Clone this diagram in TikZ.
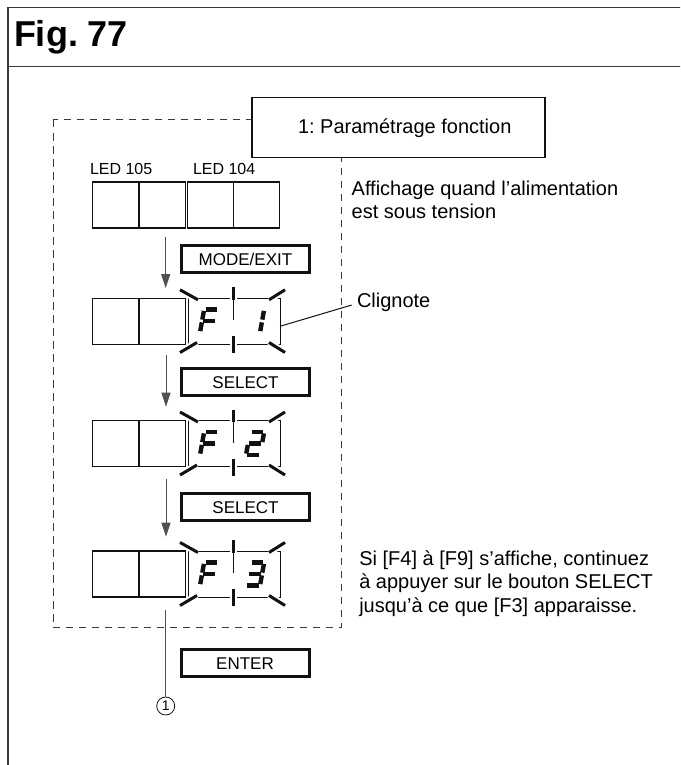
\documentclass[tikz,border=0pt]{standalone}
\usepackage{fontspec}
\setmainfont{Liberation Sans}
\usetikzlibrary{arrows.meta}
\frenchspacing
\definecolor{ink}{HTML}{111111}
\definecolor{framec}{HTML}{3A3A3A}
\definecolor{leadc}{HTML}{505050}
\tikzset{
  seg/.style={draw=ink, line width=4.4pt, shorten <=1.4pt, shorten >=1.4pt},
  ray/.style={draw=ink, line width=3pt, preaction={draw=white, line width=7pt}},
}
\newcommand\sgA{\draw[seg] (0,23)--(14,23);}
\newcommand\sgB{\draw[seg] (14,23)--(14,11.5);}
\newcommand\sgC{\draw[seg] (14,11.5)--(14,0);}
\newcommand\sgD{\draw[seg] (0,0)--(14,0);}
\newcommand\sgE{\draw[seg] (0,11.5)--(0,0);}
\newcommand\sgF{\draw[seg] (0,23)--(0,11.5);}
\newcommand\sgG{\draw[seg] (0,11.5)--(14,11.5);}
\newcommand\digitat[3]{\begin{scope}[shift={(#1,#2)},x=1pt,y=1pt,xslant=0.18]#3\end{scope}}
% rays of a blinking display: #1 = top, #2 = bottom
\newcommand\raysat[2]{%
  \draw[thin divider] (233.3,#1) -- (233.3,#1+22);
  \draw[ray] (180,#1-8.5) -- (198,#1+1.5);
  \draw[ray] (269,#1+1.5) -- (285,#1-8.5);
  \draw[ray] (180,#2+8.5) -- (197,#2-1.5);
  \draw[ray] (269,#2-1.5) -- (285,#2+8.5);
  \draw[ray] (233.3,#1-11) -- (233.3,#1+1.5);
  \draw[ray] (233.3,#2-8) -- (233.3,#2+9);
}
\begin{document}
\begin{tikzpicture}[x=1pt,y=-1pt,
  every node/.style={inner sep=0pt, outer sep=0pt},
  cell/.style={draw=ink, line width=1.3pt, minimum width=46.5pt, minimum height=46pt, anchor=north west},
  blinkbox/.style={draw=ink, line width=1pt, minimum width=92pt, minimum height=46pt, anchor=north west},
  thin divider/.style={draw=ink, line width=1pt},
  btn/.style={draw=ink, line width=3pt, minimum width=128pt, minimum height=27pt, anchor=north west,
    text height=12.2pt, text depth=0pt, font=\fontsize{17}{20}\selectfont},
  lbl/.style={anchor=base west, font=\fontsize{20}{23.5}\selectfont},
  ledlbl/.style={anchor=base west, font=\fontsize{16}{19}\selectfont},
  arr/.style={draw=leadc, line width=1pt, -{Triangle[length=14pt,width=9pt]}},
  frame/.style={draw=framec, line width=1.5pt},
  dashbox/.style={draw=framec, line width=1pt, dash pattern=on 7.5pt off 5.5pt},
]
\useasboundingbox (0,0) rectangle (680,765);
\clip (0,0) rectangle (680,765);

% outer frame and header
\draw[frame] (7.8,7.3) rectangle (700,800);
\draw[frame] (7.8,66.5) -- (700,66.5);
\node[anchor=base west, font=\fontsize{36}{40}\selectfont\bfseries] (fig) at (14,47) {Fig. 77};

% dashed group and its title
\draw[dashbox] (53.3,120) rectangle (341,627.7);
\node[draw=ink, line width=1.3pt, fill=white, minimum width=293pt, minimum height=60pt, anchor=north west] (title) at (252,97.7) {};
\node[lbl] (titletxt) at (298,134) {1: Paramétrage fonction};

% row 1: display at power on
\node[ledlbl] (l105) at (90,174) {LED 105};
\node[ledlbl] (l104) at (193,174) {LED 104};
\node[cell] (r1a) at (92.5,182) {};
\node[cell] (r1b) at (139,182) {};
\node[cell] (r1c) at (187.3,182) {};
\node[cell] (r1d) at (233.3,182) {};
\node[lbl] (aff1) at (351.7,195) {Affichage quand l’alimentation};
\node[lbl] (aff2) at (351.7,218.5) {est sous tension};

% MODE/EXIT
\node[btn] (mode) at (181.5,245.8) {MODE/EXIT};
\coordinate (a1s) at (165.7,236.7);
\coordinate (a1e) at (165.7,288);
\draw[arr] (a1s) -- (a1e);

% row 2: F1
\node[cell] (r2a) at (92.5,298.3) {};
\node[cell] (r2b) at (139,298.3) {};
\node[blinkbox] (r2r) at (188,298.3) {};
\raysat{298.3}{344}
\digitat{200}{332.5}{\sgA\sgF\sgE\sgG}
\digitat{246}{332.5}{\sgB\sgC}
\node[lbl] (clig) at (357,307) {Clignote};
\coordinate (cl) at (351.7,305);
\draw[draw=ink, line width=1pt] ([yshift=-5pt]r2r.east) -- (cl);

% SELECT 1
\node[btn] (sel1) at (181.5,368.8) {SELECT};
\coordinate (a2s) at (166,355);
\coordinate (a2e) at (166,406.7);
\draw[arr] (a2s) -- (a2e);

% row 3: F2
\node[cell] (r3a) at (92.5,420.5) {};
\node[cell] (r3b) at (139,420.5) {};
\node[blinkbox] (r3r) at (188,420.5) {};
\raysat{420.5}{466.5}
\digitat{200}{455}{\sgA\sgF\sgE\sgG}
\digitat{246}{455}{\sgA\sgB\sgG\sgE\sgD}

% SELECT 2
\node[btn] (sel2) at (181.5,493.8) {SELECT};
\coordinate (a3s) at (166,479);
\coordinate (a3e) at (166,536.7);
\draw[arr] (a3s) -- (a3e);

% row 4: F3
\node[cell] (r4a) at (92.5,551) {};
\node[cell] (r4b) at (139,551) {};
\node[blinkbox] (r4r) at (188,551) {};
\raysat{551}{597}
\digitat{200}{585.5}{\sgA\sgF\sgE\sgG}
\digitat{246}{585.5}{\sgA\sgB\sgG\sgC\sgD}
\node[lbl] (si1) at (359.3,565) {Si [F4] à [F9] s’affiche, continuez};
\node[lbl] (si2) at (359.3,588.5) {à appuyer sur le bouton SELECT};
\node[lbl] (si3) at (359.3,612) {jusqu’à ce que [F3] apparaisse.};

% ENTER and callout 1
\node[btn] (enter) at (181,649.8) {ENTER};
\node[circle, draw=ink, line width=0.8pt, minimum size=18pt, font=\fontsize{14}{14}\selectfont] (c1) at (165.7,706) {1};
\coordinate (ls) at (165.7,610);
\draw[draw=leadc, line width=1pt] (ls) -- (c1.north);
\end{tikzpicture}
\end{document}
